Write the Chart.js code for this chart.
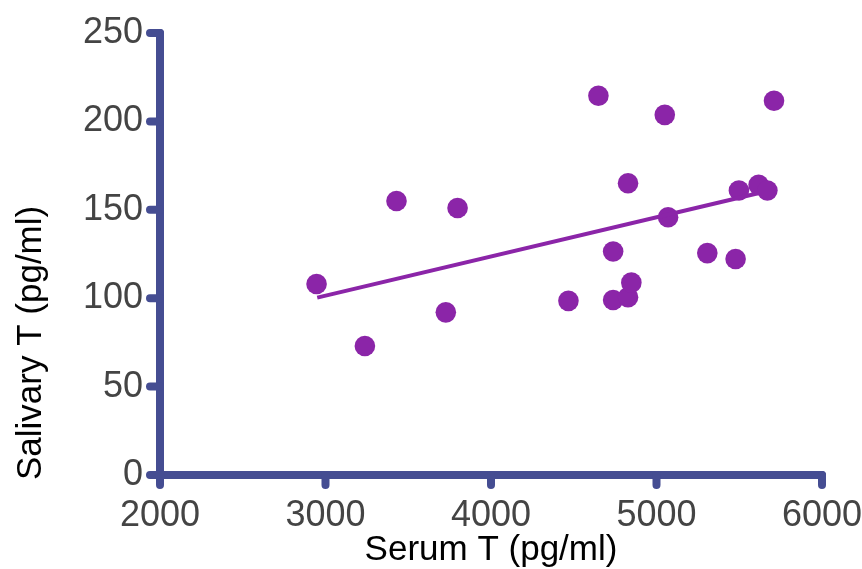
<!DOCTYPE html>
<html><head><meta charset="utf-8">
<script src="https://cdn.jsdelivr.net/npm/chart.js@4.4.1/dist/chart.umd.min.js"></script>
<style>html,body{margin:0;padding:0;background:#fff}#wrap{width:862px;height:569px}</style>
</head><body><div id="wrap"><canvas id="c" width="862" height="569"></canvas></div>
<script>
const serumT = [2946, 3238, 3429, 3727, 3798, 4468, 4649, 4738, 4738, 4828, 4848, 4828, 5050, 5070, 5307, 5478, 5498, 5617, 5670, 5710];
const salivaryT = [108, 73, 155, 92, 151, 98.5, 214.5, 126.4, 99, 100.5, 108.8, 165, 203.7, 145.8, 125.5, 122.2, 160.9, 164.1, 160.9, 211.7];
const fitX = [2950, 5620];
const fitY = [100.3, 159.5];
const xTicks = [2000, 3000, 4000, 5000, 6000];
const yTicks = [0, 50, 100, 150, 200, 250];
const xTitle = 'Serum T (pg/ml)';
const yTitle = 'Salivary T (pg/ml)';

const AXIS = '#454d92';
const PURPLE = '#8b25a8';
const FONT = 'Liberation Sans, Arial, sans-serif';

const axisPlugin = {
  id: 'roundAxes',
  afterDatasetsDraw(chart) {
    const ctx = chart.ctx, xs = chart.scales.x, ys = chart.scales.y;
    const x0 = xs.getPixelForValue(xTicks[0]), x1 = xs.getPixelForValue(xTicks[xTicks.length-1]);
    const y0 = ys.getPixelForValue(yTicks[0]), y1 = ys.getPixelForValue(yTicks[yTicks.length-1]);
    ctx.save();
    ctx.strokeStyle = AXIS; ctx.lineWidth = 8; ctx.lineCap = 'round'; ctx.lineJoin = 'round';
    ctx.beginPath();
    ctx.moveTo(x0, y1); ctx.lineTo(x0, y0); ctx.lineTo(x1, y0);
    ctx.stroke();
    ctx.beginPath();
    xTicks.forEach(v => { const p = xs.getPixelForValue(v); ctx.moveTo(p, y0); ctx.lineTo(p, y0 + 10); });
    yTicks.forEach(v => { const p = ys.getPixelForValue(v); ctx.moveTo(x0, p); ctx.lineTo(x0 - 10, p); });
    ctx.stroke();
    // y-axis title, starting just below the chart bottom as in the reference
    ctx.translate(31, y0 + 5);
    ctx.rotate(-Math.PI / 2);
    ctx.fillStyle = '#000';
    ctx.font = '35px ' + FONT;
    ctx.textAlign = 'left';
    ctx.textBaseline = 'middle';
    ctx.fillText(yTitle, 0, 0);
    ctx.restore();
  }
};

new Chart(document.getElementById('c'), {
  type: 'scatter',
  data: {
    datasets: [
      {
        type: 'line',
        data: fitX.map((x, i) => ({x, y: fitY[i]})),
        borderColor: PURPLE, borderWidth: 4, pointRadius: 0, fill: false, tension: 0
      },
      {
        data: serumT.map((x, i) => ({x, y: salivaryT[i]})),
        backgroundColor: PURPLE, borderColor: PURPLE, borderWidth: 0, pointRadius: 10.3, pointHoverRadius: 10.3
      }
    ]
  },
  options: {
    responsive: false, animation: false,
    layout: { padding: { top: 33, right: 40, left: 9, bottom: 0 } },
    plugins: { legend: { display: false }, tooltip: { enabled: false } },
    scales: {
      x: {
        type: 'linear', min: 2000, max: 6000,
        afterBuildTicks: s => { s.ticks = xTicks.map(v => ({value: v})); },
        afterFit: s => { s.height = 94; s.paddingLeft = 0; s.paddingRight = 0; },
        grid: { display: false, drawTicks: false }, border: { display: false },
        ticks: { color: '#444', font: { family: FONT, size: 36 }, padding: 19, maxRotation: 0, callback: v => String(v) },
        title: { display: true, text: xTitle, color: '#000', font: { family: FONT, size: 35 }, padding: { top: 0, bottom: -2 } }
      },
      y: {
        type: 'linear', min: 0, max: 250,
        afterBuildTicks: s => { s.ticks = yTicks.map(v => ({value: v})); },
        afterFit: s => { s.width = 151; s.paddingTop = 0; s.paddingBottom = 0; },
        grid: { display: false, drawTicks: false }, border: { display: false },
        ticks: { color: '#444', font: { family: FONT, size: 36 }, padding: 17, callback: v => String(v) },
        title: { display: false }
      }
    }
  },
  plugins: [axisPlugin]
});
</script></body></html>
